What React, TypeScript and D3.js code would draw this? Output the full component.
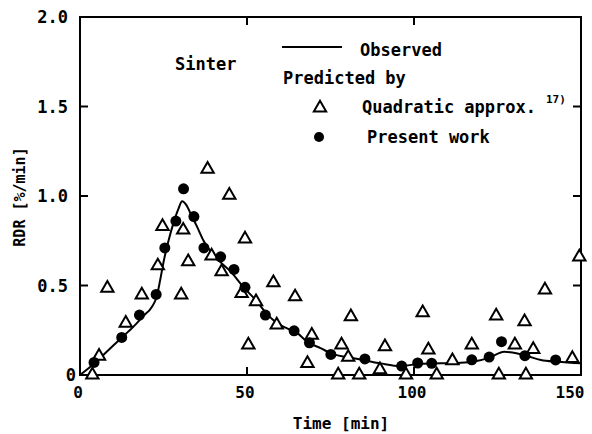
import React from "react";
import * as d3 from "d3";

const obsT = [0, 4, 8, 12, 16, 19, 21.5, 23, 24, 25, 26.5, 28, 29.5, 30.6, 31.8, 33.4, 35, 37, 41, 45, 49, 53, 56, 59, 62, 65, 68, 72, 76, 80, 85, 90, 96, 102, 108, 114, 118, 123, 127, 131, 134, 138, 143, 150];
const obsV = [0, 0.06, 0.13, 0.2, 0.27, 0.33, 0.38, 0.44, 0.53, 0.63, 0.75, 0.85, 0.93, 0.97, 0.95, 0.89, 0.83, 0.75, 0.65, 0.58, 0.49, 0.41, 0.34, 0.29, 0.26, 0.235, 0.186, 0.15, 0.115, 0.1, 0.083, 0.065, 0.05, 0.063, 0.065, 0.068, 0.075, 0.1, 0.13, 0.12, 0.105, 0.084, 0.074, 0.065];

const quadT = [3.7, 5.7, 8.2, 13.7, 18.5, 23.3, 24.7, 30.3, 30.9, 32.4, 38.2, 39.4, 42.4, 44.7, 48.4, 49.4, 50.4, 52.7, 57.9, 58.9, 64.4, 68.1, 69.4, 77.3, 78.3, 80.3, 81.1, 83.6, 89.8, 91.3, 97.6, 102.6, 104.3, 106.8, 111.5, 117.3, 124.6, 125.4, 130.2, 133.1, 133.5, 135.7, 139.2, 147.4, 149.5];
const quadV = [0, 0.105, 0.485, 0.29, 0.447, 0.61, 0.83, 0.447, 0.81, 0.633, 1.15, 0.665, 0.577, 1.005, 0.456, 0.76, 0.168, 0.41, 0.516, 0.28, 0.437, 0.065, 0.223, 0, 0.168, 0.099, 0.326, 0, 0.03, 0.158, 0, 0.348, 0.14, 0, 0.08, 0.168, 0.33, 0, 0.168, 0.298, 0, 0.143, 0.475, 0.093, 0.66];

const presT = [4.2, 12.5, 17.8, 22.8, 25.4, 28.7, 31.0, 34.1, 37.1, 42.1, 46.1, 49.4, 55.5, 64.1, 68.7, 75.1, 85.3, 96.3, 101.1, 105.3, 117.3, 122.5, 126.2, 133.2, 142.4];
const presV = [0.07, 0.21, 0.335, 0.45, 0.71, 0.86, 1.04, 0.885, 0.71, 0.66, 0.59, 0.49, 0.335, 0.247, 0.18, 0.115, 0.09, 0.05, 0.067, 0.065, 0.085, 0.1, 0.186, 0.108, 0.084];

const xTicks = [0, 50, 100, 150];
const yTicks = [0, 0.5, 1.0, 1.5, 2.0];
const yTickLabels = ["0", "0.5", "1.0", "1.5", "2.0"];

const FONT = "'DejaVu Sans Mono', monospace";

export default function App() {
  const W = 592, H = 434;
  const x = d3.scaleLinear().domain([0, 150]).range([80, 581]);
  const y = d3.scaleLinear().domain([0, 2]).range([375, 17]);
  const line = d3
    .line<number>()
    .x((_, i) => x(obsT[i]))
    .y((d) => y(d))
    .curve(d3.curveMonotoneX);
  const tri = d3.symbol().type(d3.symbolTriangle).size(66)()!;
  const x0 = x(0), x1 = x(150), y0 = y(0), y1 = y(2);

  return (
    <svg width={W} height={H} style={{ position: "absolute", left: 0, top: 0 }} fontFamily={FONT} fontWeight="bold">
      <rect width={W} height={H} fill="white" />
      {/* frame */}
      <rect x={x0} y={y1} width={x1 - x0} height={y0 - y1} fill="none" stroke="black" strokeWidth={2} />
      {xTicks.slice(1, 3).map((t) => (
        <g key={"xt" + t}>
          <line x1={x(t)} x2={x(t)} y1={y0} y2={y0 - 8} stroke="black" strokeWidth={2} />
          <line x1={x(t)} x2={x(t)} y1={y1} y2={y1 + 8} stroke="black" strokeWidth={2} />
        </g>
      ))}
      {yTicks.slice(1, 4).map((t) => (
        <g key={"yt" + t}>
          <line x1={x0} x2={x0 + 8} y1={y(t)} y2={y(t)} stroke="black" strokeWidth={2} />
          <line x1={x1} x2={x1 - 8} y1={y(t)} y2={y(t)} stroke="black" strokeWidth={2} />
        </g>
      ))}
      {/* tick labels */}
      {xTicks.map((t) => (
        <text key={"xl" + t} x={t === 150 ? x(t) - 11 : x(t) - 2} y={398} textAnchor="middle" fontSize={16}>
          {t}
        </text>
      ))}
      {yTicks.map((t, i) => (
        <text key={"yl" + t} x={t === 0 ? 76 : 68} y={y(t) + 6} textAnchor="end" fontSize={17}>
          {yTickLabels[i]}
        </text>
      ))}
      {/* axis titles */}
      <text x={341} y={429} textAnchor="middle" fontSize={16}>Time [min]</text>
      <text transform="translate(25,197) rotate(-90)" textAnchor="middle" fontSize={15}>RDR [%/min]</text>
      {/* observed line */}
      <path d={line(obsV) || ""} fill="none" stroke="black" strokeWidth={2} />
      {/* quadratic triangles */}
      {quadT.map((t, i) => (
        <path key={"q" + i} d={tri} transform={`translate(${x(t)},${y(quadV[i])})`} fill="white" stroke="black" strokeWidth={2} />
      ))}
      {/* present work circles */}
      {presT.map((t, i) => (
        <circle key={"p" + i} cx={x(t)} cy={y(presV[i])} r={5.5} fill="black" />
      ))}
      {/* annotations */}
      <text x={175} y={70} fontSize={17}>Sinter</text>
      <line x1={282} x2={342} y1={47} y2={47} stroke="black" strokeWidth={2} />
      <text x={360} y={56} fontSize={17}>Observed</text>
      <text x={283} y={84} fontSize={17}>Predicted by</text>
      <path d={tri} transform="translate(320,108)" fill="white" stroke="black" strokeWidth={2} />
      <text x={362} y={113} fontSize={17}>Quadratic approx.</text>
      <text x={546} y={103} fontSize={11}>17)</text>
      <circle cx={319} cy={137} r={5} fill="black" />
      <text x={367} y={143} fontSize={17}>Present work</text>
    </svg>
  );
}
